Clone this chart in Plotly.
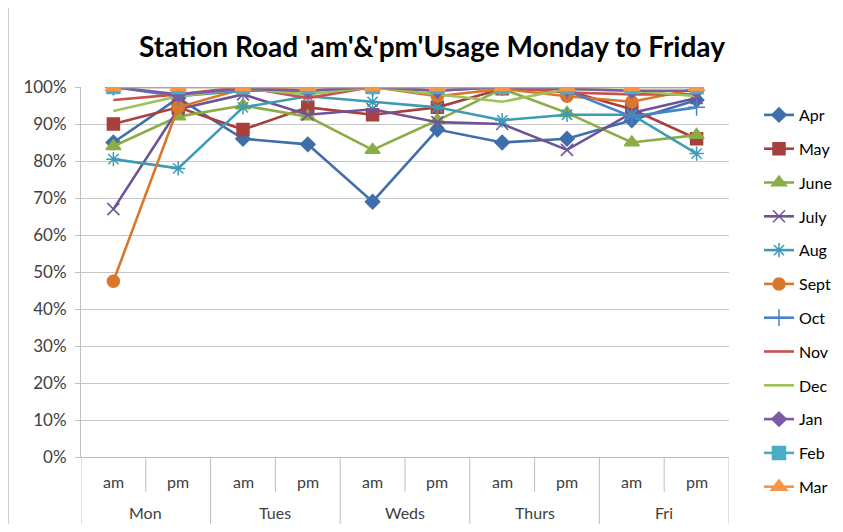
import plotly.graph_objects as go

days = ["Mon", "Tues", "Weds", "Thurs", "Fri"]
halves = ["am", "pm"]
series_names = ["Apr", "May", "June", "July", "Aug", "Sept", "Oct", "Nov", "Dec", "Jan", "Feb", "Mar"]

apr = [0.85, 0.97, 0.86, 0.845, 0.69, 0.885, 0.85, 0.86, 0.91, 0.965]
may = [0.90, 0.945, 0.885, 0.945, 0.925, 0.945, 0.995, 0.99, 0.94, 0.86]
june = [0.84, 0.92, 0.95, 0.92, 0.83, 0.91, 0.995, 0.93, 0.85, 0.87]
july = [0.67, 0.94, 0.98, 0.925, 0.94, 0.905, 0.90, 0.83, 0.93, 0.97]
aug = [0.805, 0.78, 0.945, 0.975, 0.96, 0.945, 0.91, 0.925, 0.925, 0.82]
sept = [0.475, 0.945, 0.995, 1.0, 1.0, 0.975, 0.995, 0.975, 0.96, 0.995]
oct_ = [1.0, 0.975, 0.99, 0.99, 1.0, 0.99, 1.0, 0.99, 0.92, 0.945]
nov = [0.965, 0.98, 1.0, 0.97, 1.0, 1.0, 1.0, 0.985, 0.98, 0.98]
dec = [0.935, 0.975, 0.995, 0.98, 1.0, 0.98, 0.96, 0.995, 0.99, 0.975]
jan = [1.0, 0.98, 0.995, 0.99, 1.0, 0.99, 1.0, 0.995, 0.99, 0.99]
feb = [1.0, 1.0, 1.0, 1.0, 1.0, 1.0, 1.0, 1.0, 1.0, 1.0]
mar = [1.0, 1.0, 1.0, 1.0, 1.0, 1.0, 1.0, 1.0, 1.0, 1.0]

series_values = [apr, may, june, july, aug, sept, oct_, nov, dec, jan, feb, mar]

y_tick_vals = [0, 0.1, 0.2, 0.3, 0.4, 0.5, 0.6, 0.7, 0.8, 0.9, 1.0]
y_tick_text = ["0%", "10%", "20%", "30%", "40%", "50%", "60%", "70%", "80%", "90%", "100%"]

colors = ["#3F6FAA", "#A8403D", "#8AAE45", "#6E5496", "#3E9BB5", "#D9782C",
          "#4A82C8", "#C9504C", "#9BC35A", "#7B5AA6", "#4BACC6", "#F79646"]
symbols = ["diamond", "square", "triangle-up", "x-thin-open", "asterisk-open", "circle",
           "cross-thin-open", None, None, "diamond", "square", "triangle-up"]
sizes = [11, 12, 13, 12, 12, 12, 12, 0, 0, 11, 13, 14]

cats = [(d, h) for d in days for h in halves]
xpos = list(range(len(cats)))

# The page body adds an 8px offset; figure is sized to fit the 843x532 window.
W, H = 827, 516
OFF = 8
L, R, T, B = 81 - OFF, W - (729 - OFF), 87 - OFF, H - (457 - OFF)
PLOT_W = W - L - R
PLOT_H = H - T - B

fig = go.Figure()
for i, (name, vals) in enumerate(zip(series_names, series_values)):
    sym = symbols[i]
    mode = "lines+markers" if sym else "lines"
    marker = dict(color=colors[i], size=sizes[i], symbol=sym if sym else "circle",
                  line=dict(color=colors[i], width=1.5))
    fig.add_trace(go.Scatter(
        x=xpos, y=vals, name=name, mode=mode,
        line=dict(color=colors[i], width=2.6),
        marker=marker, legendgroup=name,
    ))

shapes = []
for k in range(len(cats) + 1):
    xb = k - 0.5
    long_line = (k % 2 == 0)
    y1 = -B / PLOT_H if long_line else -35 / PLOT_H
    shapes.append(dict(type="line", xref="x", yref="paper", x0=xb, x1=xb, y0=0, y1=y1,
                       line=dict(color="#BFBFBF", width=1)))
# outer chart frame left edge
shapes.append(dict(type="line", xref="paper", yref="paper", x0=(0.5 - L) / PLOT_W, x1=(0.5 - L) / PLOT_W,
                   y0=-B / PLOT_H, y1=1 + T / PLOT_H, line=dict(color="#D0D0D0", width=1)))

annotations = []
for i, (d, h) in enumerate(cats):
    annotations.append(dict(x=xpos[i], y=-24 / PLOT_H, xref="x", yref="paper", text=h,
                            showarrow=False, font=dict(size=16, color="#404040", family="Lato"),
                            xanchor="center", yanchor="middle"))
for j, d in enumerate(days):
    annotations.append(dict(x=2 * j + 0.5, y=-(B - 1) / PLOT_H, xref="x", yref="paper", text=d,
                            showarrow=False, font=dict(size=16, color="#404040", family="Lato"),
                            xanchor="center", yanchor="bottom", borderpad=0))

fig.update_layout(
    width=W, height=H,
    margin=dict(l=L, r=R, t=T, b=B),
    paper_bgcolor="white", plot_bgcolor="white",
    title=dict(text="<b>Station Road 'am'&'pm'Usage Monday to Friday</b>",
               x=(432 - OFF) / W, xanchor="center", y=1 - (47 - OFF) / H, yanchor="middle",
               font=dict(family="Lato", size=28, color="#000000")),
    font=dict(family="Lato", size=16, color="#404040"),
    xaxis=dict(range=[-0.5, 9.5], showticklabels=False, showgrid=False, zeroline=False,
               showline=True, linecolor="#BFBFBF", linewidth=1, ticks="", fixedrange=True),
    yaxis=dict(range=[0, 1], tickvals=y_tick_vals, ticktext=y_tick_text,
               showgrid=True, gridcolor="#C6C6C6", gridwidth=1, zeroline=False,
               showline=True, linecolor="#BFBFBF", linewidth=1,
               ticks="outside", ticklen=5, tickcolor="#BFBFBF", ticklabelstandoff=5,
               tickfont=dict(size=17, color="#404040", family="Lato"), fixedrange=True),
    legend=dict(x=(759 - OFF) / W, xref="container", xanchor="left",
                y=1 - (98 - OFF) / H, yref="container", yanchor="top",
                tracegroupgap=10, maxheight=900,
                font=dict(size=16, color="#000000", family="Lato"),
                bgcolor="rgba(0,0,0,0)"),
    shapes=shapes, annotations=annotations,
)

fig.write_html("out.html")
